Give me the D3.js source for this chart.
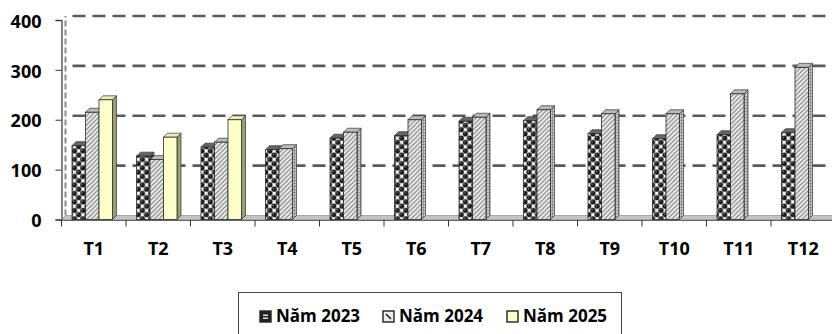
<!DOCTYPE html>
<html>
<head>
<meta charset="utf-8">
<script src="https://cdn.jsdelivr.net/npm/d3@7/dist/d3.min.js"></script>
<style>
  html, body { margin: 0; padding: 0; background: #fff; }
  svg { display: block; }
  text { font-family: "Open Sans", "Liberation Sans", sans-serif; font-weight: 700; fill: #000; }
</style>
</head>
<body>
<svg id="chart" width="832" height="334"></svg>
<script>
// Monthly values per year
const categories = ["T1","T2","T3","T4","T5","T6","T7","T8","T9","T10","T11","T12"];
const seriesNames = ["Năm 2023","Năm 2024","Năm 2025"];
const values2023 = [148,127,145,140,163,168,197,198,172,162,170,174];
const values2024 = [215,120,155,142,175,200,205,220,212,212,252,305];
const values2025 = [240,165,200,null,null,null,null,null,null,null,null,null];
const yTicks = [0,100,200,300,400];

const seriesValues = [values2023, values2024, values2025];

const svg = d3.select("#chart");
const W = 832, H = 334;

// Plot frame
const x0 = 61.5, x1 = 835.5;
const yBottom = 219.5, yTop = 20;
const dx = 4, dy = -4;   // depth offset of the 3D view

const x = d3.scaleBand().domain(categories).range([x0, x1]).paddingInner(0).paddingOuter(0);
const xs = d3.scaleBand().domain(seriesNames).range([10.5, 51]).padding(0);
const y = d3.scaleLinear().domain([0, 400]).range([yBottom, yTop]);

// Fill patterns
const defs = svg.append("defs");

const ps = 8.5, ph = ps / 2;
const p23 = defs.append("pattern").attr("id", "pat2023")
  .attr("patternUnits", "userSpaceOnUse").attr("width", ps).attr("height", ps);
p23.append("rect").attr("width", ps).attr("height", ps).attr("fill", "#fafafa");
[[ph / 2, ph / 2], [ph * 1.5, ph * 1.5], [ph * 1.5, -ph / 2], [-ph / 2, ph * 1.5], [ps + ph / 2, ph / 2], [ph / 2, ps + ph / 2],
 [ps + ph * 1.5, ph * 1.5], [ph * 1.5, ps + ph * 1.5]].forEach(([cx, cy]) => {
  p23.append("circle").attr("cx", cx).attr("cy", cy).attr("r", 2.7).attr("fill", "#1a1a1a");
});
p23.append("circle").attr("cx", ph / 2 - 0.8).attr("cy", ph / 2 - 0.8).attr("r", 0.7).attr("fill", "#9a9a9a");
p23.append("circle").attr("cx", ph * 1.5 - 0.8).attr("cy", ph * 1.5 - 0.8).attr("r", 0.7).attr("fill", "#9a9a9a");

const p23s = defs.append("pattern").attr("id", "pat2023side")
  .attr("patternUnits", "userSpaceOnUse").attr("width", 4).attr("height", 4);
p23s.append("rect").attr("width", 4).attr("height", 4).attr("fill", "#333");
p23s.append("rect").attr("x", 1).attr("y", 1).attr("width", 2).attr("height", 2).attr("fill", "#aaa");

const p24 = defs.append("pattern").attr("id", "pat2024")
  .attr("patternUnits", "userSpaceOnUse").attr("width", 4.5).attr("height", 4.5);
p24.append("rect").attr("width", 4.5).attr("height", 4.5).attr("fill", "#f4f4f4");
p24.append("path").attr("d", "M-1,5.5 L5.5,-1 M-1,1 L1,-1 M3.5,5.5 L5.5,3.5")
  .attr("stroke", "#8a8a8a").attr("stroke-width", 1.4);

const p24s = defs.append("pattern").attr("id", "pat2024side")
  .attr("patternUnits", "userSpaceOnUse").attr("width", 3).attr("height", 3);
p24s.append("rect").attr("width", 3).attr("height", 3).attr("fill", "#c8c8c8");
p24s.append("path").attr("d", "M0,0 V3 M0,0 H3").attr("stroke", "#555").attr("stroke-width", 0.8);

const faces = [
  { front: "url(#pat2023)", top: "#666", side: "url(#pat2023side)" },
  { front: "url(#pat2024)", top: "#bbb", side: "url(#pat2024side)" },
  { front: "#ffffcc", top: "#eeeebb", side: "#9d9d72" }
];

// Left side wall edge
svg.append("line").attr("x1", x0 + dx).attr("x2", x0 + dx)
  .attr("y1", y(0) + dy).attr("y2", y(400) + dy)
  .attr("stroke", "#8a8a8a").attr("stroke-width", 2).attr("stroke-dasharray", "6,3");

// Back-wall gridlines
svg.append("g").selectAll("line").data(yTicks.filter(d => d > 0)).join("line")
  .attr("x1", x0 + dx).attr("x2", W)
  .attr("y1", d => y(d) + dy).attr("y2", d => y(d) + dy)
  .attr("stroke", "#5a5a5a").attr("stroke-width", 2.6)
  .attr("stroke-dasharray", "13,7").attr("stroke-dashoffset", 13);

// Floor
svg.append("path")
  .attr("d", `M${x0},${yBottom} L${x1},${yBottom} L${x1 + dx},${yBottom + dy} L${x0 + dx},${yBottom + dy} Z`)
  .attr("fill", "#c4c4c4").attr("stroke", "#999").attr("stroke-width", 0.8);

// Bars with front, side and top faces
const bars = svg.append("g");
categories.forEach((c, i) => {
  seriesNames.forEach((s, k) => {
    const v = seriesValues[k][i];
    if (v == null) return;
    const bx = x(c) + xs(s), bw = xs.bandwidth();
    const top = y(v), bot = y(0);
    const g = bars.append("g");
    g.append("path")
      .attr("d", `M${bx + bw},${bot} L${bx + bw + dx},${bot + dy} L${bx + bw + dx},${top + dy} L${bx + bw},${top} Z`)
      .attr("fill", faces[k].side).attr("stroke", "#333").attr("stroke-width", 0.7);
    g.append("path")
      .attr("d", `M${bx},${top} L${bx + dx},${top + dy} L${bx + bw + dx},${top + dy} L${bx + bw},${top} Z`)
      .attr("fill", faces[k].top).attr("stroke", "#333").attr("stroke-width", 0.7);
    g.append("rect")
      .attr("x", bx).attr("y", top).attr("width", bw).attr("height", bot - top)
      .attr("fill", faces[k].front).attr("stroke", "#2a2a2a").attr("stroke-width", 0.8);
  });
});

// Y axis
const yAxis = svg.append("g").attr("transform", `translate(${x0},0)`)
  .call(d3.axisLeft(y).tickValues(yTicks).tickSize(6).tickPadding(14).tickFormat(d3.format("d")));
yAxis.select(".domain").attr("stroke", "#666").attr("stroke-width", 1.6);
yAxis.selectAll(".tick line").attr("stroke", "#333").attr("stroke-width", 1);
yAxis.selectAll(".tick text").attr("font-size", 18).attr("dy", "0.4em");

// X axis
const xAxis = svg.append("g").attr("transform", `translate(0,${yBottom + 0.5})`)
  .call(d3.axisBottom(x).tickSize(0).tickPadding(22));
xAxis.select(".domain").attr("stroke", "#666").attr("stroke-width", 1.2);
xAxis.selectAll(".tick text").attr("font-size", 18);
svg.append("g").selectAll("line").data(d3.range(categories.length + 1)).join("line")
  .attr("x1", i => x0 + i * x.step()).attr("x2", i => x0 + i * x.step())
  .attr("y1", yBottom + 0.5).attr("y2", yBottom + 7)
  .attr("stroke", "#333").attr("stroke-width", 1);

// Legend
const legend = svg.append("g");
legend.append("rect").attr("x", 238.5).attr("y", 292.5).attr("width", 383).attr("height", 50)
  .attr("fill", "#fff").attr("stroke", "#444").attr("stroke-width", 1);
const legendX = [260, 383, 507];
seriesNames.forEach((s, k) => {
  const gx = legendX[k];
  const sw = legend.append("g");
  sw.append("rect").attr("x", gx).attr("y", 311).attr("width", 11).attr("height", 11)
    .attr("fill", k === 2 ? faces[k].front : (k === 0 ? "#222" : "#eee"))
    .attr("stroke", "#222").attr("stroke-width", 1.4);
  if (k === 0) {
    sw.append("rect").attr("x", gx + 3).attr("y", 314.5).attr("width", 5).attr("height", 1.5).attr("fill", "#ddd");
    sw.append("rect").attr("x", gx + 3).attr("y", 317.5).attr("width", 5).attr("height", 1.5).attr("fill", "#ddd");
  } else if (k === 1) {
    sw.append("path").attr("d", `M${gx + 3},314 L${gx + 8},319`).attr("stroke", "#222").attr("stroke-width", 1.6);
  }
  legend.append("text").attr("x", gx + 16).attr("y", 322).attr("font-size", 17).text(s);
});
</script>
</body>
</html>
